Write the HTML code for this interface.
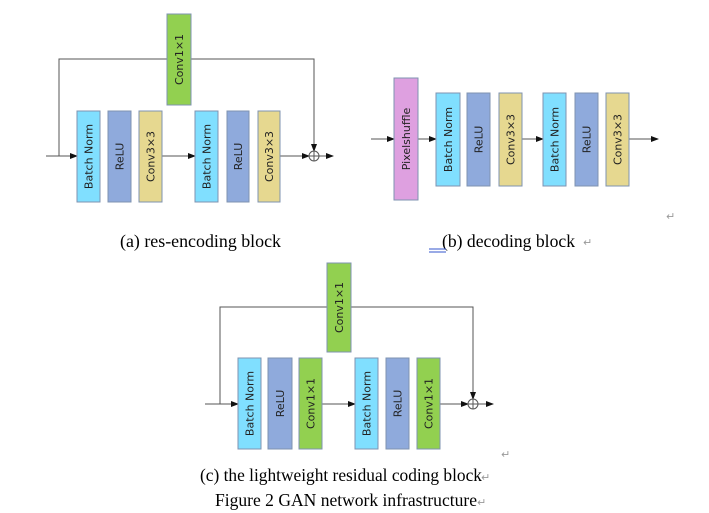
<!DOCTYPE html>
<html><head><meta charset="utf-8"><style>
html,body{margin:0;padding:0;background:#fff;}
svg{display:block;}
.t{font-family:"DejaVu Sans","Liberation Sans",sans-serif;font-size:11px;fill:#222;}
.c{font-family:"Liberation Serif",serif;font-size:17.5px;fill:#000;}
</style></head><body>
<svg width="709" height="513" viewBox="0 0 709 513" xmlns="http://www.w3.org/2000/svg">
<defs>
<marker id="a" markerWidth="8" markerHeight="6" refX="7" refY="3" orient="auto" markerUnits="userSpaceOnUse"><path d="M0,0 L8,3 L0,6 z" fill="#111"/></marker>
</defs>
<g stroke="#555" stroke-width="1" fill="none">
<path d="M46,156 H77" marker-end="url(#a)"/>
<path d="M59,156 V59 H314 V151" marker-end="url(#a)"/>
<path d="M162,156 H195" marker-end="url(#a)"/>
<path d="M280,156 H309" marker-end="url(#a)"/>
<path d="M319,156 H333" marker-end="url(#a)"/>
<circle cx="314" cy="156" r="5" fill="#fff"/>
<path d="M309,156 H319 M314,151 V161"/>
<path d="M371,139 H394" marker-end="url(#a)"/>
<path d="M418,139 H436" marker-end="url(#a)"/>
<path d="M522,139 H543" marker-end="url(#a)"/>
<path d="M629,139 H658" marker-end="url(#a)"/>
<path d="M205,404 H238" marker-end="url(#a)"/>
<path d="M220,404 V307 H473 V399" marker-end="url(#a)"/>
<path d="M322,404 H355" marker-end="url(#a)"/>
<path d="M440,404 H468" marker-end="url(#a)"/>
<path d="M478,404 H493" marker-end="url(#a)"/>
<circle cx="473" cy="404" r="5" fill="#fff"/>
<path d="M468,404 H478 M473,399 V409"/>
</g>
<g stroke="#7f93b0" stroke-width="1">
<rect x="167" y="14" width="24" height="91" fill="#92d050"/>
<rect x="77" y="111" width="23" height="91" fill="#80dfff"/>
<rect x="108" y="111" width="23" height="91" fill="#8faadc"/>
<rect x="139" y="111" width="23" height="91" fill="#e6d890"/>
<rect x="195" y="111" width="23" height="91" fill="#80dfff"/>
<rect x="227" y="111" width="22" height="91" fill="#8faadc"/>
<rect x="258" y="111" width="22" height="91" fill="#e6d890"/>
<rect x="394" y="78" width="24" height="122" fill="#dea0e0"/>
<rect x="436" y="93" width="24" height="93" fill="#80dfff"/>
<rect x="467" y="93" width="23" height="93" fill="#8faadc"/>
<rect x="499" y="93" width="23" height="93" fill="#e6d890"/>
<rect x="543" y="93" width="23" height="93" fill="#80dfff"/>
<rect x="575" y="93" width="23" height="93" fill="#8faadc"/>
<rect x="606" y="93" width="23" height="93" fill="#e6d890"/>
<rect x="327" y="263" width="24" height="89" fill="#92d050"/>
<rect x="238" y="358" width="23" height="91" fill="#80dfff"/>
<rect x="268" y="358" width="24" height="91" fill="#8faadc"/>
<rect x="299" y="358" width="23" height="91" fill="#92d050"/>
<rect x="355" y="358" width="23" height="91" fill="#80dfff"/>
<rect x="386" y="358" width="23" height="91" fill="#8faadc"/>
<rect x="417" y="358" width="23" height="91" fill="#92d050"/>
</g>
<g class="t" text-anchor="middle">
<text transform="translate(183,59.5) rotate(-90)">Conv1×1</text>
<text transform="translate(92.5,156.5) rotate(-90)">Batch Norm</text>
<text transform="translate(123.5,156.5) rotate(-90)">ReLU</text>
<text transform="translate(154.5,156.5) rotate(-90)">Conv3×3</text>
<text transform="translate(210.5,156.5) rotate(-90)">Batch Norm</text>
<text transform="translate(242,156.5) rotate(-90)">ReLU</text>
<text transform="translate(273,156.5) rotate(-90)">Conv3×3</text>
<text transform="translate(410,139) rotate(-90)">Pixelshuffle</text>
<text transform="translate(452,139.5) rotate(-90)">Batch Norm</text>
<text transform="translate(482.5,139.5) rotate(-90)">ReLU</text>
<text transform="translate(514.5,139.5) rotate(-90)">Conv3×3</text>
<text transform="translate(558.5,139.5) rotate(-90)">Batch Norm</text>
<text transform="translate(590.5,139.5) rotate(-90)">ReLU</text>
<text transform="translate(621.5,139.5) rotate(-90)">Conv3×3</text>
<text transform="translate(343,307.5) rotate(-90)">Conv1×1</text>
<text transform="translate(253.5,403.5) rotate(-90)">Batch Norm</text>
<text transform="translate(284,403.5) rotate(-90)">ReLU</text>
<text transform="translate(314.5,403.5) rotate(-90)">Conv1×1</text>
<text transform="translate(370.5,403.5) rotate(-90)">Batch Norm</text>
<text transform="translate(401.5,403.5) rotate(-90)">ReLU</text>
<text transform="translate(432.5,403.5) rotate(-90)">Conv1×1</text>
</g>
<text class="c" x="120" y="247" textLength="161" lengthAdjust="spacingAndGlyphs">(a) res-encoding block</text>
<text class="c" x="442" y="247" textLength="133" lengthAdjust="spacingAndGlyphs">(b) decoding block</text>
<text class="c" x="200" y="481" textLength="282" lengthAdjust="spacingAndGlyphs">(c) the lightweight residual coding block</text>
<text class="c" x="215" y="506" textLength="262" lengthAdjust="spacingAndGlyphs">Figure 2 GAN network infrastructure</text>
<g font-family="DejaVu Sans,sans-serif" font-size="11" fill="#999">
<text x="583" y="246">↵</text>
<text x="666" y="220">↵</text>
<text x="481" y="481">↵</text>
<text x="501" y="458">↵</text>
<text x="477" y="506">↵</text>
</g>
<path d="M429,249 H446 M429,252 H446" stroke="#3355cc" stroke-width="1"/>
</svg>
</body></html>
